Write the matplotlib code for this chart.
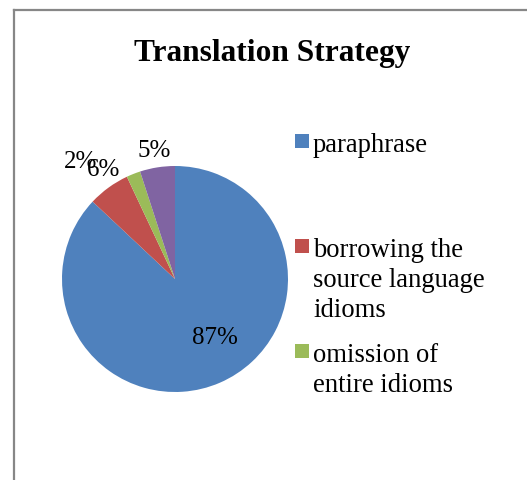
"""
Pie chart of translation strategies (Excel-style look).
"""

import numpy as np
import matplotlib.pyplot as plt
from matplotlib.lines import Line2D
from matplotlib.patches import Rectangle

# Data
categories = [
	"paraphrase",
	"borrowing the\nsource language\nidioms",
	"omission of\nentire idioms",
	"other",
]
shares = [87, 6, 2, 5]
colors = ["#4F81BD", "#C0504D", "#9BBB59", "#8064A2"]

# only the first three legend entries fit in the chart box
n_legend = 3

# label placement (radius in pie units, angle nudge in degrees)
label_r = [0.62, 1.16, 1.34, 1.16]
label_shift = [11, -3, 17, 0]

W, H = 527, 481
fig = plt.figure(figsize=(W / 100, H / 100), dpi=100)
serif = "Liberation Serif"

# pie axes, square in pixels
cx, cy, R = 175, 280, 113
ax = fig.add_axes([(cx - R) / W, (H - cy - R) / H, 2 * R / W, 2 * R / H])
wedges, _ = ax.pie(shares, colors=colors, startangle=90, counterclock=False,
	radius=1, wedgeprops=dict(linewidth=0))
ax.set_xlim(-1, 1)
ax.set_ylim(-1, 1)
ax.set_axis_off()

for w, val, r, shift in zip(wedges, shares, label_r, label_shift):
	mid = np.deg2rad((w.theta1 + w.theta2) / 2 + shift)
	ax.text(r * np.cos(mid), r * np.sin(mid), f"{val}%", ha="center", va="center",
		fontsize=18, family=serif, color="black")

# title
fig.text(272 / W, 1 - 54 / H, "Translation Strategy", ha="center", va="center",
	fontsize=22.6, fontweight="bold", family=serif)

# legend, drawn by hand to mimic Excel's spacing
leg_x, first_base, entry_step, line_step = 313, 152, 105, 30
for i in range(n_legend):
	base = first_base + i * entry_step
	fig.patches.append(Rectangle((295 / W, 1 - (base - 3) / H), 14 / W, 14 / H,
		transform=fig.transFigure, facecolor=colors[i], edgecolor="none"))
	for j, line in enumerate(categories[i].split("\n")):
		fig.text(leg_x / W, 1 - (base + j * line_step) / H, line, ha="left",
			va="baseline", fontsize=19.2, family=serif)

# chart border (only left and top visible)
border = dict(color="#878787", linewidth=1.6, transform=fig.transFigure)
fig.lines.append(Line2D([13.5 / W, 13.5 / W], [0, 1 - 10.5 / H], **border))
fig.lines.append(Line2D([13.5 / W, 1], [1 - 10.5 / H, 1 - 10.5 / H], **border))

plt.savefig("out.png", dpi=100)
plt.close()
